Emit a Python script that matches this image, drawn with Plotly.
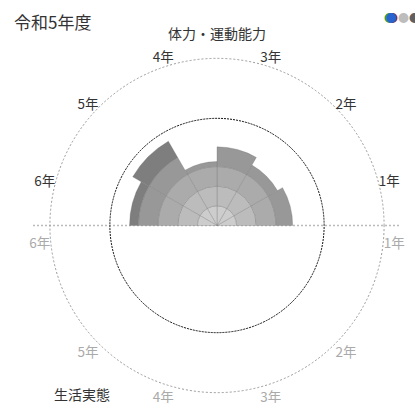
import plotly.graph_objects as go

# ---- data ----
top_grades = ["1年", "2年", "3年", "4年", "5年", "6年"]
bottom_grades = ["6年", "5年", "4年", "3年", "2年", "1年"]
top_cats = ["体力" + g for g in top_grades]
bottom_cats = ["生活" + g for g in bottom_grades]
categories = top_cats + bottom_cats

level_1 = [20, 20, 20, 20, 20, 20]
level_2 = [20, 20, 20, 20, 20, 20]
level_3 = [20, 20, 20, 20, 20, 20]
level_4 = [17, 11, 20, 5, 20, 20]
level_5 = [0, 0, 0, 0, 19, 9]
levels = [level_1, level_2, level_3, level_4, level_5]
level_colors = ["#cdcdcd", "#bcbcbc", "#ababab", "#989898", "#7e7e7e"]

reference_value = 109
outer_value = 170
axis_max = 175

legend_colors = ["#2a9d3a", "#d03030", "#2a62d0", "#bdbdbd", "#606060"]
legend_x = [389.5, 392.5, 391, 403, 414]

# angles (degrees) where the lower-half grade labels sit
bottom_label_angles = [185.5, 225, 255, 285, 315, 354.5]

FONT = "Noto Sans CJK JP, sans-serif"
W, H = 415, 403

fig = go.Figure()
for vals, col in zip(levels, level_colors):
    fig.add_trace(go.Barpolar(
        r=vals, theta=top_cats, subplot="polar",
        marker=dict(color=col, line=dict(color="rgba(120,120,120,0.55)", width=0.6)),
        showlegend=False, hoverinfo="skip",
    ))
fig.add_trace(go.Scatterpolar(
    r=[0] * len(categories), theta=categories, subplot="polar", mode="markers",
    marker=dict(opacity=0), showlegend=False, hoverinfo="skip",
))
fig.add_trace(go.Scatterpolar(
    r=[0], theta=[0], subplot="polar2", mode="markers",
    marker=dict(opacity=0), showlegend=False, hoverinfo="skip",
))
fig.add_trace(go.Scatterpolar(
    r=[0] * len(categories), theta=categories, subplot="polar3", mode="markers",
    marker=dict(opacity=0), showlegend=False, hoverinfo="skip",
))
fig.add_trace(go.Scatterpolar(
    r=[0], theta=[0], subplot="polar4", mode="markers",
    marker=dict(opacity=0), showlegend=False, hoverinfo="skip",
))

cx, cy, R, RL = 217, 225.5, 172, 167
dom_x = [(cx - R) / W, (cx + R) / W]
dom_y = [(H - cy - R) / H, (H - cy + R) / H]
lab_x = [(cx - RL) / W, (cx + RL) / W]
lab_y = [(H - cy - RL) / H, (H - cy + RL) / H]

annotations = [
    dict(text="令和5年度", x=12 / W, y=(H - 22) / H, xref="paper", yref="paper",
         xanchor="left", yanchor="middle", showarrow=False,
         font=dict(size=17, color="#333333", family=FONT)),
    dict(text="体力・運動能力", x=217 / W, y=(H - 33) / H, xref="paper", yref="paper",
         xanchor="center", yanchor="middle", showarrow=False,
         font=dict(size=14, color="#333333", family=FONT)),
    dict(text="生活実態", x=82 / W, y=(H - 394) / H, xref="paper", yref="paper",
         xanchor="center", yanchor="middle", showarrow=False,
         font=dict(size=14, color="#333333", family=FONT)),
]
for lx, lc in zip(legend_x, legend_colors):
    annotations.append(dict(text="●", x=lx / W, y=(H - 17) / H, xref="paper", yref="paper",
                            xanchor="center", yanchor="middle", showarrow=False,
                            font=dict(size=11, color=lc, family=FONT)))

hidden_angular = dict(showticklabels=False, showgrid=False, showline=False, ticks="")
hidden_radial = dict(visible=False)

fig.update_layout(
    width=W, height=H,
    margin=dict(l=0, r=0, t=0, b=0),
    paper_bgcolor="white",
    font=dict(family=FONT, color="#333333"),
    polar=dict(
        domain=dict(x=dom_x, y=dom_y),
        bgcolor="rgba(0,0,0,0)",
        barmode="stack", bargap=0,
        radialaxis=dict(range=[0, axis_max], tickmode="array", tickvals=[outer_value],
                        showticklabels=False, ticks="", showline=False, showgrid=True,
                        gridcolor="#9a9a9a", griddash="2px,2px", gridwidth=1),
        angularaxis=dict(type="category", categoryorder="array", categoryarray=categories,
                         rotation=15, direction="counterclockwise", **hidden_angular),
    ),
    polar2=dict(
        domain=dict(x=dom_x, y=dom_y),
        bgcolor="rgba(0,0,0,0)",
        radialaxis=dict(range=[0, axis_max], tickmode="array", tickvals=[reference_value],
                        showticklabels=False, ticks="", showline=False, showgrid=True,
                        gridcolor="#111111", griddash="2px,1px", gridwidth=1.3),
        angularaxis=dict(type="linear", **hidden_angular),
    ),
    polar3=dict(
        domain=dict(x=lab_x, y=lab_y),
        bgcolor="rgba(0,0,0,0)",
        radialaxis=hidden_radial,
        angularaxis=dict(type="category", categoryorder="array", categoryarray=categories,
                         rotation=15, direction="counterclockwise",
                         tickmode="array", tickvals=top_cats, ticktext=top_grades,
                         showgrid=False, showline=False, ticks="", ticklen=0,
                         tickfont=dict(size=13.5, color="#333333", family=FONT)),
    ),
    polar4=dict(
        domain=dict(x=lab_x, y=lab_y),
        bgcolor="rgba(0,0,0,0)",
        radialaxis=hidden_radial,
        angularaxis=dict(type="linear", rotation=0, direction="counterclockwise",
                         tickmode="array", tickvals=bottom_label_angles,
                         ticktext=bottom_grades,
                         showgrid=False, showline=False, ticks="", ticklen=0,
                         tickfont=dict(size=13.5, color="#aaaaaa", family=FONT)),
    ),
    shapes=[dict(type="line", xref="paper", yref="paper",
                 x0=33 / W, x1=400 / W, y0=(H - cy) / H, y1=(H - cy) / H,
                 line=dict(color="#bbbbbb", width=1.6, dash="2px,2px"), layer="below")],
    annotations=annotations,
)

fig.write_html("out.html", config={"displayModeBar": False},
               post_script="document.body.style.margin='0';document.body.style.overflow='hidden';")
